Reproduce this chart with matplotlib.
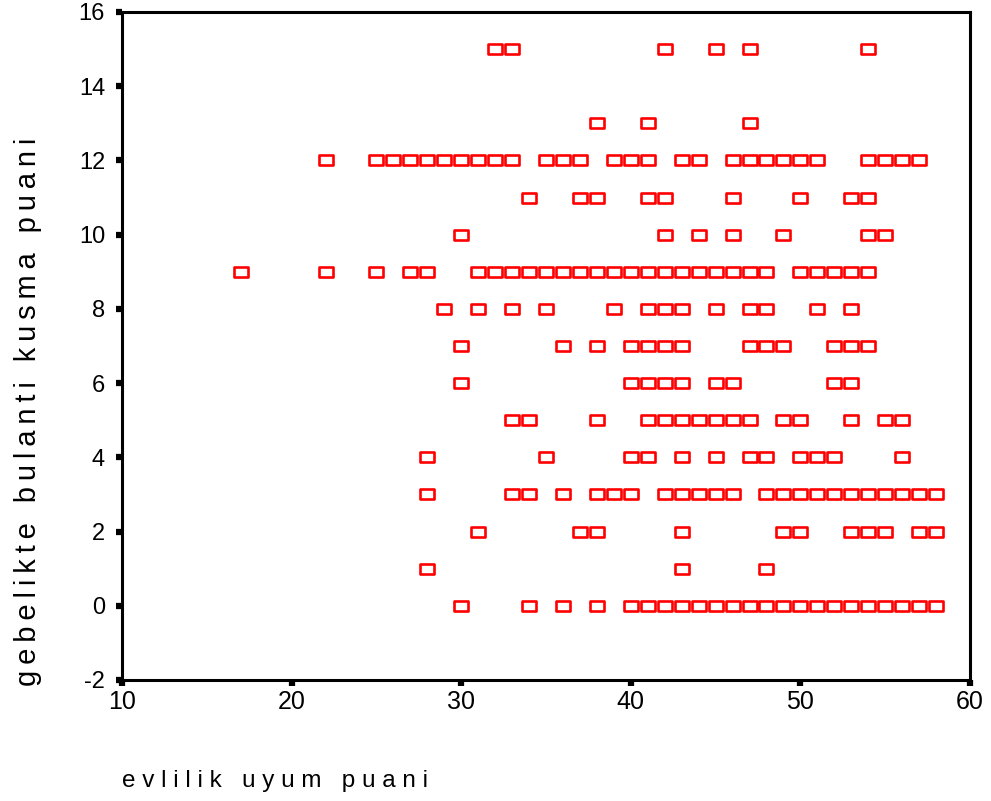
import matplotlib
matplotlib.use("Agg")
import matplotlib.pyplot as plt
from matplotlib.path import Path
import numpy as np

# x values (evlilik uyum puani) at each y level (gebelikte bulanti kusma puani)
x_at_15 = [32, 33, 42, 45, 47, 54]
x_at_13 = [38, 41, 47]
x_at_12 = [22, 25, 26, 27, 28, 29, 30, 31, 32, 33, 35, 36, 37, 39, 40, 41, 43, 44,
           46, 47, 48, 49, 50, 51, 54, 55, 56, 57]
x_at_11 = [34, 37, 38, 41, 42, 46, 50, 53, 54]
x_at_10 = [30, 42, 44, 46, 49, 54, 55]
x_at_9 = [17, 22, 25, 27, 28, 31, 32, 33, 34, 35, 36, 37, 38, 39, 40, 41, 42, 43,
          44, 45, 46, 47, 48, 50, 51, 52, 53, 54]
x_at_8 = [29, 31, 33, 35, 39, 41, 42, 43, 45, 47, 48, 51, 53]
x_at_7 = [30, 36, 38, 40, 41, 42, 43, 47, 48, 49, 52, 53, 54]
x_at_6 = [30, 40, 41, 42, 43, 45, 46, 52, 53]
x_at_5 = [33, 34, 38, 41, 42, 43, 44, 45, 46, 47, 49, 50, 53, 55, 56]
x_at_4 = [28, 35, 40, 41, 43, 45, 47, 48, 50, 51, 52, 56]
x_at_3 = [28, 33, 34, 36, 38, 39, 40, 42, 43, 44, 45, 46, 48, 49, 50, 51, 52, 53,
          54, 55, 56, 57, 58]
x_at_2 = [31, 37, 38, 43, 49, 50, 53, 54, 55, 57, 58]
x_at_1 = [28, 43, 48]
x_at_0 = [30, 34, 36, 38, 40, 41, 42, 43, 44, 45, 46, 47, 48, 49, 50, 51, 52, 53,
          54, 55, 56, 57, 58]

levels = {15: x_at_15, 13: x_at_13, 12: x_at_12, 11: x_at_11, 10: x_at_10,
          9: x_at_9, 8: x_at_8, 7: x_at_7, 6: x_at_6, 5: x_at_5, 4: x_at_4,
          3: x_at_3, 2: x_at_2, 1: x_at_1, 0: x_at_0}

xs, ys = [], []
for yv, xl in levels.items():
    xs.extend(xl)
    ys.extend([yv] * len(xl))

x_ticks = [10, 20, 30, 40, 50, 60]
y_ticks = [-2, 0, 2, 4, 6, 8, 10, 12, 14, 16]

plt.rcParams['font.family'] = ['Liberation Sans', 'DejaVu Sans']

fig = plt.figure(figsize=(9.91, 8.01), dpi=100)
W, H = 991, 801
ax = fig.add_axes([122 / W, 1 - 680 / H, (970 - 122) / W, (680 - 12) / H])

rect = Path([(-1.3, -1), (1.3, -1), (1.3, 1), (-1.3, 1), (-1.3, -1)],
            [Path.MOVETO, Path.LINETO, Path.LINETO, Path.LINETO, Path.CLOSEPOLY])
ax.plot(xs, ys, linestyle='none', marker=rect, markersize=9.6,
        markerfacecolor='white', markeredgecolor='#ff0000', markeredgewidth=1.9,
        clip_on=False)

ax.set_xlim(10, 60)
ax.set_ylim(-2, 16)
ax.set_xticks(x_ticks)
ax.set_yticks(y_ticks)
ax.set_xticklabels([str(v) for v in x_ticks])
ax.set_yticklabels([str(v) for v in y_ticks])

for s in ax.spines.values():
    s.set_linewidth(2.2)
    s.set_color('black')

ax.tick_params(axis='both', direction='out', length=4.2, width=4.5,
               color='black', labelcolor='black')
ax.tick_params(axis='x', pad=3, labelsize=18)
ax.tick_params(axis='y', pad=8, labelsize=17)


def spaced(text, sep):
    return sep.join(text)


ts = "\u2009"
ylab = spaced("gebelikte bulanti kusma puani", ts)
fig.text(28 / W, 1 - 412 / H, ylab, fontsize=21, rotation=90,
         ha='center', va='center')
fig.text(122 / W, 1 - 781 / H, "e v l i l i k   u y u m   p u a n i",
         fontsize=17.5, ha='left', va='center')

fig.savefig("out.png", dpi=100)
